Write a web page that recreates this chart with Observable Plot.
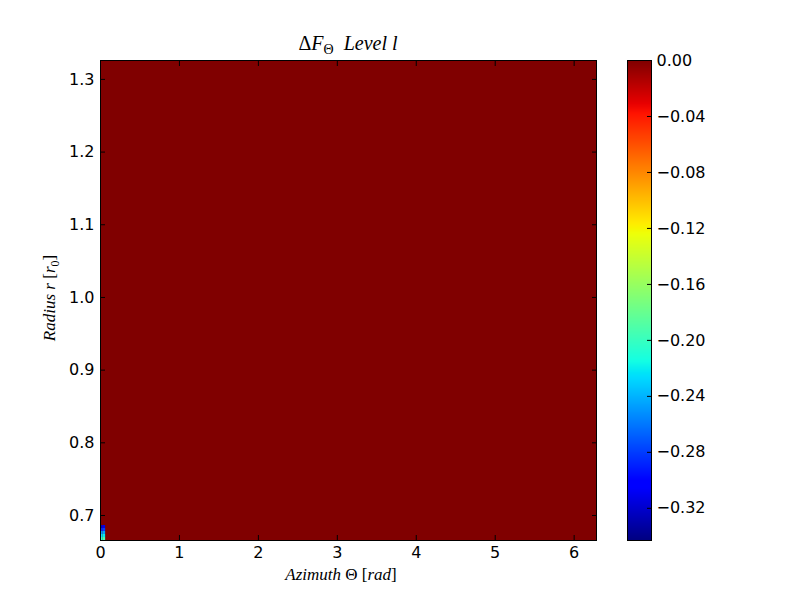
<!DOCTYPE html>
<html>
<head>
<meta charset="utf-8">
<script src="https://cdn.jsdelivr.net/npm/d3@7"></script>
<script src="https://cdn.jsdelivr.net/npm/@observablehq/plot@0.6"></script>
<style>
  html, body { margin: 0; padding: 0; background: #fff; overflow: hidden; }
  #wrap { position: relative; width: 800px; height: 600px; background: #fff; }
  #wrap svg { position: absolute; left: 0; top: 0; }
  .m { position: absolute; font-family: "Liberation Serif", serif; color: #000; white-space: nowrap; }
  .i { font-style: italic; }
  sub { font-size: 70%; vertical-align: -0.3em; line-height: 0; }
</style>
</head>
<body>
<div id="wrap">
  <div class="m" id="title" style="font-size:20px; left:348px; top:32px; transform:translateX(-50%);">Δ<span class="i">F</span><sub>Θ</sub>&nbsp;&nbsp;<span class="i">Level l</span></div>
  <div class="m" id="xlab" style="font-size:17px; left:341px; top:565px; transform:translateX(-50%);"><span class="i">Azimuth</span> Θ [<span class="i">rad</span>]</div>
  <div class="m" id="ylab" style="font-size:17px; left:50px; top:298px; transform:translate(-50%,-50%) rotate(-90deg);"><span class="i">Radius r</span> [<span class="i">r</span><sub>0</sub>]</div>
</div>
<script>
// ---- data ----
const thetaRange = [0, 2 * Math.PI];
const rRange = [0.6656, 1.326];
const fieldValue = 0;
const colorDomain = [-0.343, 0];

// small non-zero patch near theta = 0, r = r_min
const cellThetaEdges = [0, 0.03, 0.065];
const cellREdges = [0.6656, 0.6697, 0.6739, 0.6780, 0.6821, 0.6862];
const valuesCol0 = [-0.205, -0.225, -0.25, -0.29, -0.325];
const valuesCol1 = [-0.195, -0.22, -0.245, -0.28, -0.31];

const xTicks = [0, 1, 2, 3, 4, 5, 6];
const yTicks = [0.7, 0.8, 0.9, 1.0, 1.1, 1.2, 1.3];
const cbTicks = [0, -0.04, -0.08, -0.12, -0.16, -0.20, -0.24, -0.28, -0.32];

// ---- jet colormap ----
const jetR = [[0, 0], [0.35, 0], [0.66, 1], [0.89, 1], [1, 0.5]];
const jetG = [[0, 0], [0.125, 0], [0.375, 1], [0.64, 1], [0.91, 0], [1, 0]];
const jetB = [[0, 0.5], [0.11, 1], [0.34, 1], [0.65, 0], [1, 0]];
function seg(pts, t) {
  t = Math.max(0, Math.min(1, t));
  for (let i = 1; i < pts.length; i++) {
    if (t <= pts[i][0]) {
      const [x0, y0] = pts[i - 1], [x1, y1] = pts[i];
      return y0 + (y1 - y0) * (t - x0) / (x1 - x0);
    }
  }
  return pts[pts.length - 1][1];
}
function jet(t) {
  return d3.rgb(seg(jetR, t) * 255, seg(jetG, t) * 255, seg(jetB, t) * 255).formatRgb();
}

// ---- build tables ----
const field = [{t0: thetaRange[0], t1: thetaRange[1], r0: rRange[0], r1: rRange[1], v: fieldValue}];
const cells = [];
[valuesCol0, valuesCol1].forEach((col, j) => {
  col.forEach((v, i) => {
    cells.push({t0: cellThetaEdges[j], t1: cellThetaEdges[j + 1], r0: cellREdges[i], r1: cellREdges[i + 1], v});
  });
});

const colorOpts = {type: "linear", domain: colorDomain, interpolate: jet};
const baseStyle = {fontFamily: "DejaVu Sans", fontSize: "16px", background: "transparent", overflow: "visible", color: "black"};

const main = Plot.plot({
  width: 800, height: 600,
  marginLeft: 100, marginRight: 204, marginTop: 60, marginBottom: 60,
  style: baseStyle,
  x: {domain: thetaRange, label: null},
  y: {domain: rRange, label: null},
  color: colorOpts,
  marks: [
    Plot.rect(field, {x1: "t0", x2: "t1", y1: "r0", y2: "r1", fill: "v"}),
    Plot.rect(cells, {x1: "t0", x2: "t1", y1: "r0", y2: "r1", fill: "v"}),
    Plot.frame({stroke: "black", strokeWidth: 1}),
    Plot.axisX(xTicks, {anchor: "bottom", tickSize: -5, tickPadding: 11, tickFormat: d3.format("d"), label: null, stroke: "black"}),
    Plot.axisX(xTicks, {anchor: "top", tickSize: -5, tickFormat: () => "", label: null, stroke: "black"}),
    Plot.axisY(yTicks, {anchor: "left", tickSize: -5, tickPadding: 11, tickFormat: d3.format(".1f"), label: null, stroke: "black"}),
    Plot.axisY(yTicks, {anchor: "right", tickSize: -5, tickFormat: () => "", label: null, stroke: "black"})
  ]
});

const cbar = Plot.plot({
  width: 800, height: 600,
  marginLeft: 627, marginRight: 149, marginTop: 60, marginBottom: 60,
  style: baseStyle,
  x: {domain: [0, 1], axis: null},
  y: {domain: colorDomain, label: null},
  color: colorOpts,
  marks: [
    Plot.raster({fill: (x, y) => y, x1: 0, x2: 1, y1: colorDomain[0], y2: colorDomain[1], width: 1, height: 480}),
    Plot.frame({stroke: "black", strokeWidth: 1}),
    Plot.axisY(cbTicks, {anchor: "right", tickSize: -5, tickPadding: 10, tickFormat: d3.format(".2f"), label: null, stroke: "black"})
  ]
});

const wrap = document.getElementById("wrap");
wrap.insertBefore(main, wrap.firstChild);
wrap.insertBefore(cbar, main.nextSibling);
</script>
</body>
</html>
